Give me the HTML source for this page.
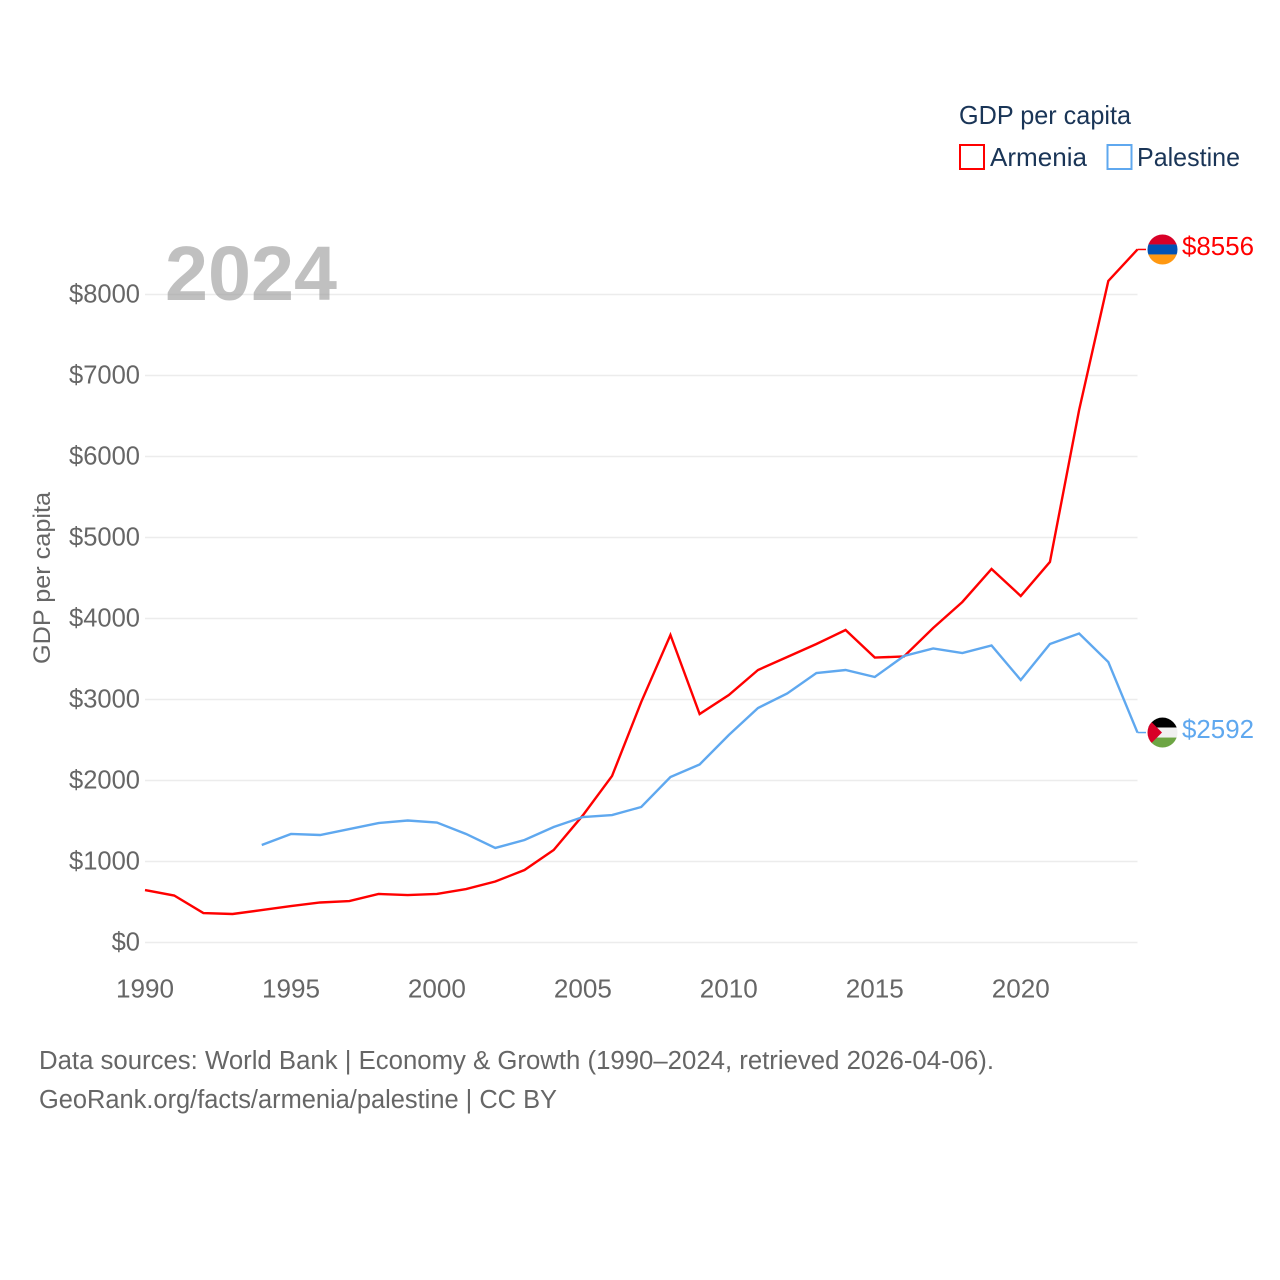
<!DOCTYPE html>
<html lang="en">
<head>
<meta charset="utf-8">
<title>GDP per capita: Armenia and Palestine</title>
<style>
html,body{margin:0;padding:0;background:#fff}
svg{display:block}
text{font-family:"Liberation Sans",sans-serif}
</style>
</head>
<body>
<svg id="chart" width="1280" height="1280" viewBox="0 0 1280 1280" xmlns="http://www.w3.org/2000/svg">
  <defs>
    <clipPath id="clip-am"><circle id="clip-am-c" cx="1162.5" cy="249" r="15"/></clipPath>
    <clipPath id="clip-ps"><circle id="clip-ps-c" cx="1162.5" cy="732" r="15"/></clipPath>
  </defs>
  <rect width="1280" height="1280" fill="#fff"/>
  <g id="grid"></g>
  <text x="165" y="300" font-size="77" font-weight="700" fill="#9a9a9a" fill-opacity="0.62" textLength="172" lengthAdjust="spacingAndGlyphs">2024</text>
  <g id="yticks"></g>
  <g id="xticks"></g>
  <text transform="translate(50,664) rotate(-90)" font-size="24" fill="#666" textLength="172" lengthAdjust="spacingAndGlyphs">GDP per capita</text>
  <g id="series"></g>
  <g id="ends"></g>

  <g>
    <text x="959" y="124" font-size="26" fill="#1a3557" textLength="172" lengthAdjust="spacingAndGlyphs">GDP per capita</text>
    <rect x="960" y="145" width="24" height="24" fill="none" stroke="#ff0000" stroke-width="2"/>
    <text x="990" y="166" font-size="26" fill="#1a3557" textLength="97" lengthAdjust="spacingAndGlyphs">Armenia</text>
    <rect x="1107.5" y="145" width="24" height="24" fill="none" stroke="#5fa8ef" stroke-width="2"/>
    <text x="1137" y="166" font-size="26" fill="#1a3557" textLength="103" lengthAdjust="spacingAndGlyphs">Palestine</text>
  </g>

  <g>
    <text x="39" y="1069" font-size="25.5" fill="#666" textLength="955" lengthAdjust="spacingAndGlyphs">Data sources: World Bank | Economy &amp; Growth (1990–2024, retrieved 2026-04-06).</text>
    <text x="39" y="1108" font-size="25.5" fill="#666" textLength="518" lengthAdjust="spacingAndGlyphs">GeoRank.org/facts/armenia/palestine | CC BY</text>
  </g>
</svg>
<script>
const years = [1990,1991,1992,1993,1994,1995,1996,1997,1998,1999,2000,2001,2002,2003,2004,2005,2006,2007,2008,2009,2010,2011,2012,2013,2014,2015,2016,2017,2018,2019,2020,2021,2022,2023,2024];
const armenia = [648,580,364,352,400,450,494,512,599,586,599,660,753,895,1142,1570,2056,2970,3796,2821,3055,3364,3525,3685,3858,3518,3531,3883,4204,4611,4278,4698,6574,8167,8556];
const palestine = [null,null,null,null,1204,1340,1327,1401,1475,1506,1481,1340,1167,1265,1426,1549,1574,1673,2043,2198,2562,2895,3074,3327,3364,3278,3537,3630,3574,3667,3241,3685,3815,3463,2592];
const yTickValues = [0,1000,2000,3000,4000,5000,6000,7000,8000];
const xTickValues = [1990,1995,2000,2005,2010,2015,2020];

const NS = 'http://www.w3.org/2000/svg';
const xPos = yr => 145 + (yr - 1990) * (992.5 / 34);
const yPos = v => 942.5 - v * 0.081;
const mk = (tag, parent) => { const el = document.createElementNS(NS, tag); parent.appendChild(el); return el; };

const gridG = document.getElementById('grid');
const yTickG = document.getElementById('yticks');
yTickValues.forEach(v => {
  const ln = mk('line', gridG);
  
  
  ln.setAttribute('x1', xPos(1990));
  ln.setAttribute('x2', xPos(2024));
  ln.setAttribute('y1', yPos(v));
  ln.setAttribute('y2', yPos(v));
  ln.setAttribute('stroke', '#ececec');
  ln.setAttribute('stroke-width', '1.5');
  const t = mk('text', yTickG);
  
  
  const label = '$' + v;
  t.textContent = label;
  t.setAttribute('x', 140);
  t.setAttribute('y', yPos(v) + 8);
  t.setAttribute('text-anchor', 'end');
  t.setAttribute('font-size', '25.5');
  t.setAttribute('fill', '#666');
  t.setAttribute('textLength', label.length * 14.2);
  t.setAttribute('lengthAdjust', 'spacingAndGlyphs');
});

const xTickG = document.getElementById('xticks');
xTickValues.forEach(yr => {
  const t = mk('text', xTickG);
  
  
  t.textContent = yr;
  t.setAttribute('x', xPos(yr));
  t.setAttribute('y', 997.5);
  t.setAttribute('text-anchor', 'middle');
  t.setAttribute('font-size', '25.5');
  t.setAttribute('fill', '#666');
  t.setAttribute('textLength', 58);
  t.setAttribute('lengthAdjust', 'spacingAndGlyphs');
});

function linePoints(values) {
  const pts = [];
  values.forEach((v, i) => { if (v !== null) pts.push(xPos(years[i]).toFixed(2) + ',' + yPos(v).toFixed(2)); });
  return pts.join(' ');
}

const seriesG = document.getElementById('series');
const lineAm = mk('polyline', seriesG);


lineAm.setAttribute('points', linePoints(armenia));
lineAm.setAttribute('fill', 'none');
lineAm.setAttribute('stroke', '#ff0000');
lineAm.setAttribute('stroke-width', '2.4');
const linePs = mk('polyline', seriesG);


linePs.setAttribute('points', linePoints(palestine));
linePs.setAttribute('fill', 'none');
linePs.setAttribute('stroke', '#5fa8ef');
linePs.setAttribute('stroke-width', '2.4');

const endsG = document.getElementById('ends');
function stripe(parent, x, y, w, h, fill) {
  const r = mk('rect', parent);
  r.setAttribute('x', x);
  r.setAttribute('y', y);
  r.setAttribute('width', w);
  r.setAttribute('height', h);
  r.setAttribute('fill', fill);
  return r;
}
function endLabel(lastValue, color) {
  const yy = yPos(lastValue);
  const c = mk('line', endsG);
  
  
  c.setAttribute('x1', xPos(2024));
  c.setAttribute('x2', 1146);
  c.setAttribute('y1', yy);
  c.setAttribute('y2', yy);
  c.setAttribute('stroke', color);
  c.setAttribute('stroke-width', '1.5');
  const t = mk('text', endsG);
  
  
  t.textContent = '$' + lastValue;
  t.setAttribute('x', 1182);
  t.setAttribute('y', yy + 5.5);
  t.setAttribute('font-size', '26');
  t.setAttribute('fill', color);
  t.setAttribute('textLength', 72);
  t.setAttribute('lengthAdjust', 'spacingAndGlyphs');
  return yy;
}

const amEnd = armenia[armenia.length - 1];
const psEnd = palestine[palestine.length - 1];
const amY = endLabel(amEnd, '#ff0000');
const psY = endLabel(psEnd, '#5fa8ef');
document.getElementById('clip-am-c').setAttribute('cy', amY);
document.getElementById('clip-ps-c').setAttribute('cy', psY);

const flagAm = mk('g', endsG);


flagAm.setAttribute('clip-path', 'url(#clip-am)');
stripe(flagAm, 1147, amY - 15, 31, 10, '#d80027');
stripe(flagAm, 1147, amY - 5, 31, 10, '#0052b4');
stripe(flagAm, 1147, amY + 5, 31, 10, '#ff9811');

const flagPs = mk('g', endsG);


flagPs.setAttribute('clip-path', 'url(#clip-ps)');
stripe(flagPs, 1147, psY - 15, 31, 10, '#000000');
stripe(flagPs, 1147, psY - 5, 31, 10, '#f0f0f0');
stripe(flagPs, 1147, psY + 5, 31, 10, '#6da544');
const tri = mk('polygon', flagPs);
tri.setAttribute('points', '1147,' + (psY - 15) + ' 1147,' + (psY + 15) + ' 1162,' + psY);
tri.setAttribute('fill', '#d80027');
</script>
</body>
</html>
